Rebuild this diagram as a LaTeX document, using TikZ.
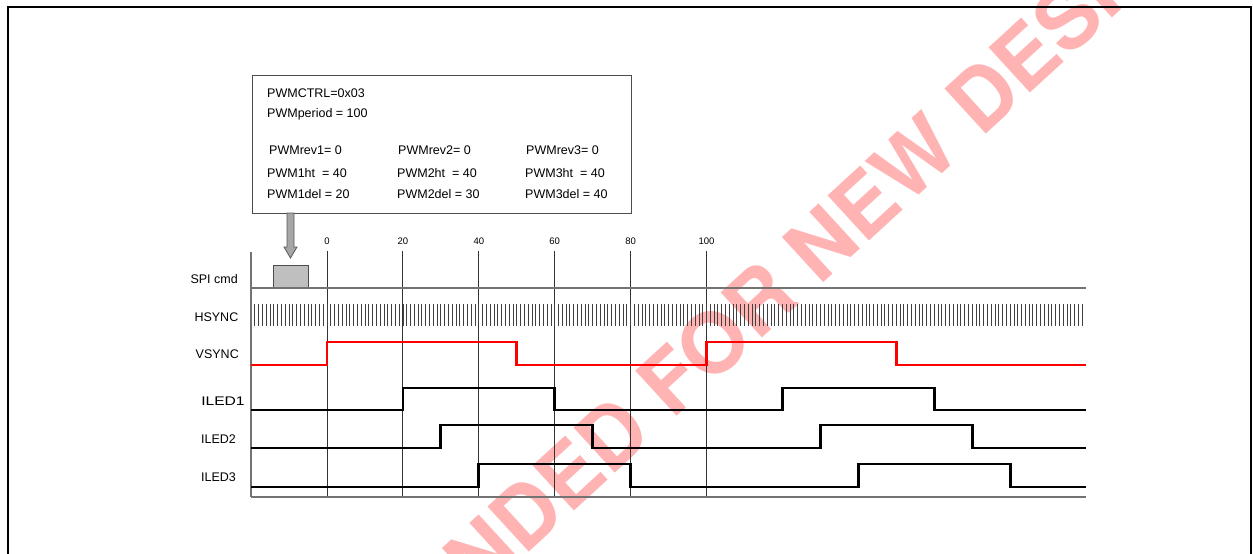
\documentclass[tikz,border=0pt]{standalone}
\usepackage{fontspec}
\setmainfont{Liberation Sans}
\newfontfamily\wmfont{TeX Gyre Heros}
\definecolor{wmpink}{HTML}{FFB3B3}
\begin{document}
\begin{tikzpicture}[x=1pt,y=-1pt,
  lbl/.style={font=\fontsize{12.5}{15}\selectfont, inner sep=0pt},
  tlbl/.style={font=\fontsize{9.5}{11}\selectfont, inner sep=0pt},
  gridln/.style={black!80, line width=0.9pt},
  axisln/.style={black!55, line width=1.3pt},
  hs/.style={black!75, line width=0.8pt},
  vsig/.style={red, line width=2.6pt},
  lsig/.style={black, line width=2.8pt},
  blockarr/.style={draw=black!65, fill=black!35, line width=0.8pt},
  wm/.style={text=wmpink, font=\wmfont\bfseries\fontsize{84}{90}\selectfont, rotate=42.5, inner sep=0pt}]
\useasboundingbox (0,0) rectangle (1253,554);
\clip (0,0) rectangle (1253,554);
% watermark
\node[wm] (wmark) at (614,433) {NOT RECOMMENDED FOR NEW DESIGNS};
% frame
\draw[line width=2pt] (8,600) -- (8,7) -- (1250.5,7) -- (1250.5,600);
% configuration box
\node[draw=black!70, line width=1.2pt, fill=white, minimum width=379pt, minimum height=138pt, anchor=north west, inner sep=0pt] (cfg) at (252,75) {};
\node[lbl, anchor=base west] (c0) at (267,97) {PWMCTRL=0x03};
\node[lbl, anchor=base west] (c1) at (267,117) {PWMperiod = 100};
\node[lbl, anchor=base west] (r1) at (269,154) {PWMrev1= 0};
\node[lbl, anchor=base west] (r2) at (398,154) {PWMrev2= 0};
\node[lbl, anchor=base west] (r3) at (526,154) {PWMrev3= 0};
\node[lbl, anchor=base west] (h1) at (267,177) {PWM1ht\ \ = 40};
\node[lbl, anchor=base west] (h2) at (397,177) {PWM2ht\ \ = 40};
\node[lbl, anchor=base west] (h3) at (525,177) {PWM3ht\ \ = 40};
\node[lbl, anchor=base west] (d1) at (267,198) {PWM1del = 20};
\node[lbl, anchor=base west] (d2) at (397,198) {PWM2del = 30};
\node[lbl, anchor=base west] (d3) at (525,198) {PWM3del = 40};
% block arrow from box to SPI command
\coordinate (atop) at (290.5,213);
\coordinate (atip) at (290.5,258);
\draw[blockarr] (atop) ++(-3.5,0) -- ++(0,34) -- ++(-3,0) -- (atip) -- ++(6.5,-11) -- ++(-3,0) -- ++(0,-34) -- cycle;
% SPI command block
\node[draw=black!70, fill=black!25, line width=0.8pt, minimum width=35pt, minimum height=22pt, anchor=south west, inner sep=0pt] (spi) at (273,288) {};
% signal labels
\node[lbl, anchor=base east] (lspi) at (238,283) {SPI cmd};
\node[lbl, anchor=base east] (lhs) at (238.5,321) {HSYNC};
\node[lbl, anchor=base east] (lvs) at (239,358) {VSYNC};
\node[lbl, anchor=base west, xscale=1.25] (l1) at (201,405) {ILED1};
\node[lbl, anchor=base west] (l2) at (201,443) {ILED2};
\node[lbl, anchor=base west] (l3) at (201,481) {ILED3};
% time axis
\foreach \t in {0,20,40,60,80,100}{
  \draw[gridln] ({327+3.795*\t},251) -- ({327+3.795*\t},497);
  \node[tlbl] (tk\t) at ({327+3.795*\t},241) {\t};
}
\draw[axisln] (251,252) -- (251,497);
\draw[axisln] (251,288) -- (1086,288);
\draw[axisln] (251,497) -- (1086,497);
% HSYNC pulses
\foreach \k in {-19,...,199}{
  \draw[hs] ({327+3.795*\k},304) -- ({327+3.795*\k},326);
}
% VSYNC
\draw[vsig] (251,365) -- (327,365) -- (327,342) -- ({327+3.795*50},342) -- ({327+3.795*50},365)
  -- ({327+3.795*100},365) -- ({327+3.795*100},342) -- ({327+3.795*150},342) -- ({327+3.795*150},365) -- (1086,365);
% ILED1
\draw[lsig] (251,410) -- ({327+3.795*20},410) -- ({327+3.795*20},388) -- ({327+3.795*60},388) -- ({327+3.795*60},410)
  -- ({327+3.795*120},410) -- ({327+3.795*120},388) -- ({327+3.795*160},388) -- ({327+3.795*160},410) -- (1086,410);
% ILED2
\draw[lsig] (251,448) -- ({327+3.795*30},448) -- ({327+3.795*30},425) -- ({327+3.795*70},425) -- ({327+3.795*70},448)
  -- ({327+3.795*130},448) -- ({327+3.795*130},425) -- ({327+3.795*170},425) -- ({327+3.795*170},448) -- (1086,448);
% ILED3
\draw[lsig] (251,487) -- ({327+3.795*40},487) -- ({327+3.795*40},464) -- ({327+3.795*80},464) -- ({327+3.795*80},487)
  -- ({327+3.795*140},487) -- ({327+3.795*140},464) -- ({327+3.795*180},464) -- ({327+3.795*180},487) -- (1086,487);
\end{tikzpicture}
\end{document}
